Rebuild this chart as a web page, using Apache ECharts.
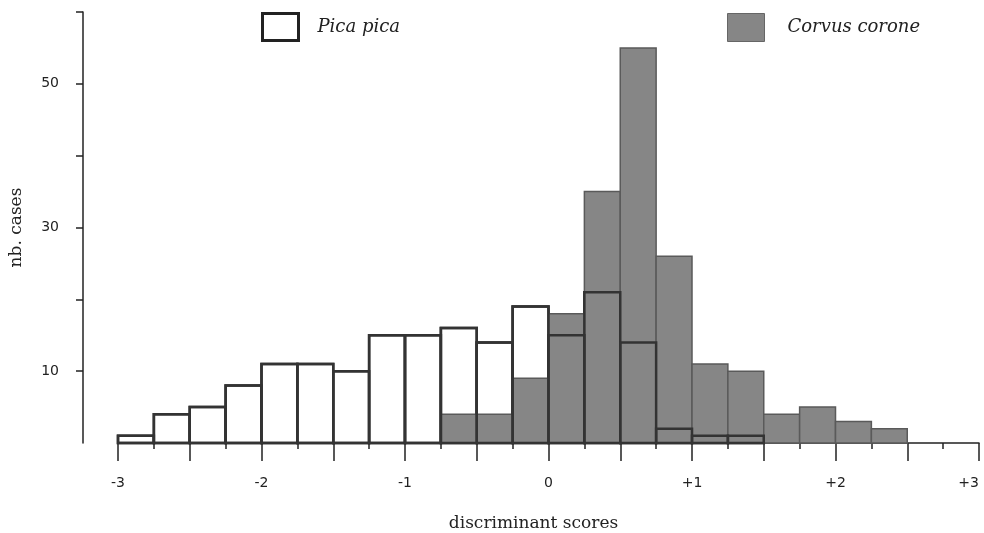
<!DOCTYPE html>
<html>
<head>
<meta charset="utf-8">
<script src="https://cdn.jsdelivr.net/npm/echarts@6/dist/echarts.min.js"></script>
<style>html,body{margin:0;padding:0;background:#fff}#c{width:984px;height:533px}</style>
</head>
<body>
<div id="c"></div>
<script>
// Bin start positions (bin width 0.25) and counts
const picaBinStarts = [-3, -2.75, -2.5, -2.25, -2, -1.75, -1.5, -1.25, -1, -0.75, -0.5, -0.25, 0, 0.25, 0.5, 0.75, 1, 1.25];
const picaCounts    = [1, 4, 5, 8, 11, 11, 10, 15, 15, 16, 14, 19, 15, 21, 14, 2, 1, 1];
const corvusBinStarts = [-0.75, -0.5, -0.25, 0, 0.25, 0.5, 0.75, 1, 1.25, 1.5, 1.75, 2, 2.25];
const corvusCounts    = [4, 4, 9, 18, 35, 55, 26, 11, 10, 4, 5, 3, 2];
const binWidth = 0.25;
const xTickLabels = {'-3': '-3', '-2': '-2', '-1': '-1', '0': '0', '1': '+1', '2': '+2', '3': '+3'};
const yTickLabels = [10, 30, 50];
const yTickValues = [10, 20, 30, 40, 50, 60];

const picaData = picaBinStarts.map((s, i) => [s, s + binWidth, picaCounts[i]]);
const corvusData = corvusBinStarts.map((s, i) => [s, s + binWidth, corvusCounts[i]]);

function makeRender(style) {
  return function (params, api) {
    const x0 = api.value(0), x1 = api.value(1), v = api.value(2);
    const p0 = api.coord([x0, v]);
    const p1 = api.coord([x1, 0]);
    return {
      type: 'rect',
      shape: {x: p0[0], y: p0[1], width: p1[0] - p0[0], height: p1[1] - p0[1]},
      style: style
    };
  };
}

const chart = echarts.init(document.getElementById('c'));
chart.setOption({
  animation: false,
  backgroundColor: '#fff',
  grid: {left: 118, right: 5, top: 12, bottom: 90, containLabel: false, outerBoundsMode: 'none'},
  legend: [
    {
      left: 261, top: 12, padding: 0, itemWidth: 36, itemHeight: 27,
      icon: 'rect',
      data: [{name: 'Pica pica', itemStyle: {color: '#fff', borderColor: '#222', borderWidth: 3}}],
      textStyle: {fontFamily: 'DejaVu Serif', fontStyle: 'italic', fontSize: 18, color: '#222', padding: [0, 0, 0, 14]}
    },
    {
      left: 727, top: 13, padding: 0, itemWidth: 37, itemHeight: 28,
      icon: 'rect',
      data: [{name: 'Corvus corone', itemStyle: {color: '#868686', borderColor: '#666', borderWidth: 1}}],
      textStyle: {fontFamily: 'DejaVu Serif', fontStyle: 'italic', fontSize: 18, color: '#222', padding: [0, 0, 0, 18]}
    }
  ],
  xAxis: [
    {
      type: 'value', min: -3, max: 3, interval: 0.25, position: 'bottom',
      axisLine: {show: true, onZero: false, lineStyle: {color: '#222', width: 1.5}},
      axisTick: {show: true, length: 6, lineStyle: {color: '#222', width: 1.5}},
      axisLabel: {show: false},
      splitLine: {show: false},
      name: 'discriminant scores', nameLocation: 'middle', nameGap: 72,
      nameTextStyle: {fontFamily: 'DejaVu Serif', fontSize: 17, color: '#222', padding: [0, 30, 0, 0]}
    },
    {
      type: 'value', min: -3, max: 3, interval: 0.5, position: 'bottom', offset: 0,
      axisLine: {show: false, onZero: false},
      axisTick: {show: true, length: 18, lineStyle: {color: '#222', width: 1.5}},
      axisLabel: {
        show: true, margin: 33, fontFamily: 'DejaVu Sans', fontSize: 14, color: '#222',
        alignMaxLabel: 'right',
        formatter: v => (xTickLabels[String(v)] !== undefined ? xTickLabels[String(v)] : '')
      },
      splitLine: {show: false}
    }
  ],
  yAxis: {
    type: 'value', min: 0, max: 60, interval: 10, offset: 35, position: 'left',
    axisLine: {show: true, onZero: false, lineStyle: {color: '#222', width: 1.5}},
    axisTick: {show: true, length: 7, customValues: yTickValues, lineStyle: {color: '#222', width: 1.5}},
    axisLabel: {
      margin: 24, fontFamily: 'DejaVu Sans', fontSize: 14, color: '#222',
      formatter: v => (yTickLabels.indexOf(v) >= 0 ? String(v) : '')
    },
    splitLine: {show: false},
    name: 'nb. cases', nameLocation: 'middle', nameGap: 58,
    nameTextStyle: {fontFamily: 'DejaVu Serif', fontSize: 17, color: '#222'}
  },
  series: [
    {
      name: 'Pica pica', type: 'custom', xAxisIndex: 0, renderItem: makeRender({fill: '#fff', stroke: '#222', lineWidth: 2.5}),
      data: picaData, encode: {x: [0, 1], y: 2}, itemStyle: {color: '#fff'}
    },
    {
      name: 'Corvus corone', type: 'custom', xAxisIndex: 0, renderItem: makeRender({fill: '#868686', stroke: '#5a5a5a', lineWidth: 1.5}),
      data: corvusData, encode: {x: [0, 1], y: 2}, itemStyle: {color: '#868686'}
    },
    {
      name: 'Pica outline', type: 'custom', xAxisIndex: 0, renderItem: makeRender({fill: 'none', stroke: '#333', lineWidth: 2.5}),
      data: picaData, encode: {x: [0, 1], y: 2}
    }
  ]
});
</script>
</body>
</html>
